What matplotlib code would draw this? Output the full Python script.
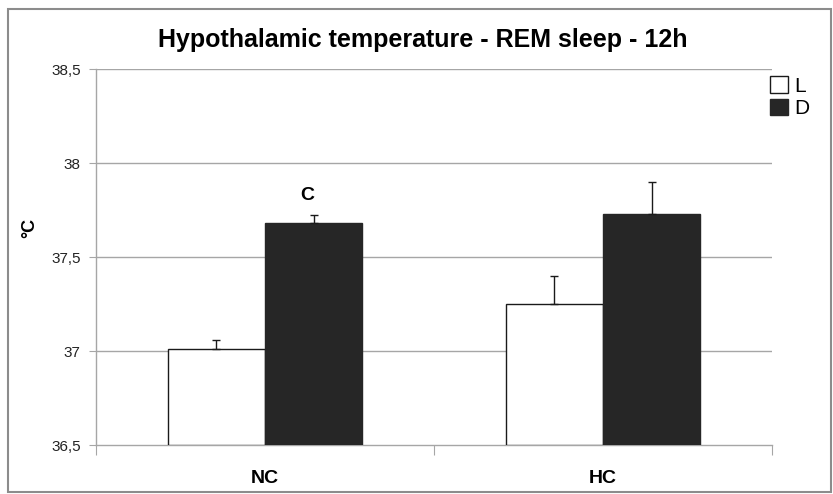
import matplotlib
matplotlib.use('Agg')
import matplotlib.pyplot as plt
from matplotlib.patches import Rectangle, Patch
import numpy as np

plt.rcParams['font.family'] = ['Liberation Sans', 'DejaVu Sans']

# Mean hypothalamic temperature (°C) with SEM, per group and phase
groups = ['NC', 'HC']
series = ['L', 'D']
temp_L = [37.01, 37.25]
temp_D = [37.68, 37.73]
sem_L = [0.05, 0.15]
sem_D = [0.045, 0.17]
yticks = [36.5, 37.0, 37.5, 38.0, 38.5]
ytick_labels = ['36,5', '37', '37,5', '38', '38,5']
title = 'Hypothalamic temperature - REM sleep - 12h'

BASE = 36.5
W = 0.288
GRID = '#a6a6a6'

fig = plt.figure(figsize=(8.33, 4.94), dpi=100)
ax = fig.add_axes([96 / 833, 49 / 494, 676 / 833, 376 / 494])

x = np.arange(len(groups))
for xs, vals, errs, fc, ec in [(x - W / 2, temp_L, sem_L, 'white', '#1a1a1a'),
                               (x + W / 2, temp_D, sem_D, '#262626', '#262626')]:
    vals = np.array(vals)
    ax.bar(xs, vals - BASE, bottom=BASE, width=W, color=fc, edgecolor=ec,
           linewidth=1.0, zorder=3)
    ax.errorbar(xs, vals, yerr=[np.zeros_like(vals), errs], fmt='none',
                ecolor='#1a1a1a', elinewidth=1.0, capsize=3, capthick=1.0, zorder=4)

# significance mark above NC dark bar
ax.text(x[0] + W / 2 - 0.02, temp_D[0] + sem_D[0] + 0.1, 'C', ha='center', va='center',
        fontsize=14, fontweight='bold')

ax.set_xlim(-0.5, 1.5)
ax.set_ylim(36.5, 38.5)
ax.set_yticks(yticks)
ax.set_yticklabels(ytick_labels, fontsize=11, color='#222222')
ax.set_xticks([-0.5, 0.5, 1.5])
ax.set_xticklabels([])
ax.tick_params(axis='x', length=7, color=GRID, direction='out')
ax.tick_params(axis='y', length=5, color=GRID, direction='out', pad=6)
for xc, g in zip(x, groups):
    ax.text(xc, -0.09, g, transform=ax.get_xaxis_transform(), ha='center', va='center',
            fontsize=14, fontweight='bold')

for y in yticks[1:]:
    ax.axhline(y, color=GRID, linewidth=1.0, zorder=1)
for side in ['top', 'right']:
    ax.spines[side].set_visible(False)
for side in ['left', 'bottom']:
    ax.spines[side].set_color(GRID)
    ax.spines[side].set_linewidth(1.0)

fig.text(30 / 833, 1 - 228 / 494, '°C', rotation=90, ha='center', va='center',
         fontsize=13, fontweight='bold')

fig.text(0.507, 1 - 40 / 494, title, ha='center', va='center', fontsize=18, fontweight='bold')

handles = [Patch(facecolor='white', edgecolor='#1a1a1a', linewidth=1.0),
           Patch(facecolor='#262626', edgecolor='#262626', linewidth=1.0)]
fig.legend(handles, series, loc='upper left', bbox_to_anchor=(770 / 833, 1 - 76 / 494),
           frameon=False, fontsize=15, handlelength=0.85, handleheight=0.85,
           handletextpad=0.3, labelspacing=0.15, borderpad=0, borderaxespad=0)

# outer chart frame
fig.patches.append(Rectangle((8 / 833, 2 / 494), 823 / 833, 483 / 494, transform=fig.transFigure,
                             fill=False, edgecolor='#8c8c8c', linewidth=1.5))

fig.savefig('out.png', dpi=100)
